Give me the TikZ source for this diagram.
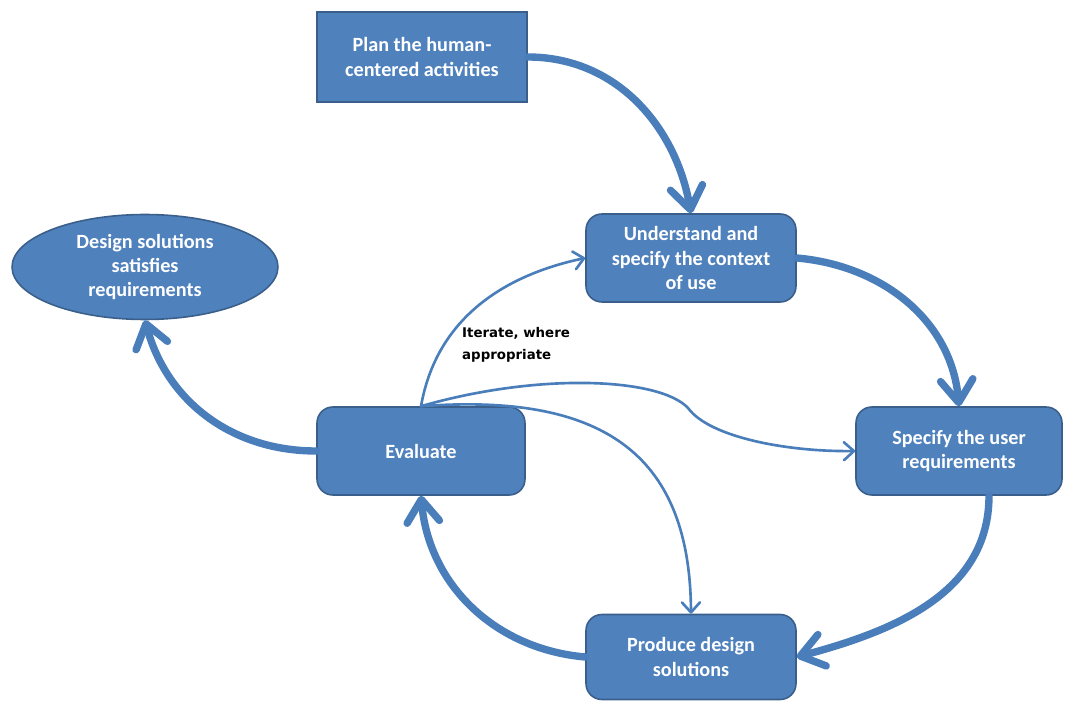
\documentclass[tikz,border=0pt]{standalone}
\usepackage{fontspec}
\setmainfont{Carlito}
\newfontfamily\notefont{DejaVu Sans}
\usetikzlibrary{arrows.meta,shapes.geometric}
\definecolor{boxblue}{HTML}{4F81BD}
\definecolor{boxedge}{HTML}{3A5F8B}
\definecolor{flowblue}{HTML}{4A7EBB}
\tikzset{
  stage/.style={draw=boxedge, line width=0.9pt, fill=boxblue, text=white,
    rounded corners=9pt, minimum width=4.2cm, minimum height=1.76cm,
    align=center, inner sep=2pt, font=\bfseries\fontsize{11.5}{13.8}\selectfont},
  bigflow/.style={draw=flowblue, line width=4.2pt, line cap=round,
    -{Straight Barb[length=4.5mm,width=6.5mm,round]}},
  iterflow/.style={draw=flowblue, line width=1.5pt, line cap=round,
    -{Straight Barb[length=2mm,width=3.6mm,round]}},
}
\begin{document}
\begin{tikzpicture}[x=0.02cm,y=-0.02cm]
  \useasboundingbox (0,0) rectangle (1065,702);
  % process stages
  \node[stage, rounded corners=0pt, minimum height=1.8cm] (plan) at (422,57) {Plan the human-\\centered activities};
  \node[stage] (ctx) at (691,258) {Understand and\\specify the context\\of use};
  \node[stage, minimum width=4.12cm] (req) at (959,451) {Specify the user\\requirements};
  \node[stage, minimum height=1.7cm] (sol) at (691,657) {Produce design\\solutions};
  \node[stage, minimum width=4.16cm] (eval) at (421,451) {Evaluate};
  \node[stage, ellipse, rounded corners=0pt, minimum width=5.32cm, minimum height=2.1cm,
        inner sep=0pt] (done) at (145,267) {Design solutions\\satisfies\\requirements};
  % main cycle
  \draw[bigflow] (plan.east) to[out=0,in=100] (ctx.north);
  \draw[bigflow] (ctx.east) to[out=-5,in=95] (req.north);
  \draw[bigflow] ([xshift=6mm]req.south) to[out=-90,in=15] (sol.east);
  \draw[bigflow] (sol.west) to[out=175,in=-85] (eval.south);
  \draw[bigflow] (eval.west) to[out=180,in=-75] (done.south);
  % iteration
  \draw[iterflow] (eval.north) to[out=80,in=192] (ctx.west);
  \draw[iterflow] (eval.north) .. controls (540,372) and (660,378) .. (688,408)
                               .. controls (710,438) and (790,452) .. (req.west);
  \draw[iterflow] (eval.north) .. controls (610,392) and (690,460) .. (sol.north);
  \node[font=\notefont\bfseries\fontsize{7.6}{12.5}\selectfont, align=left, anchor=west]
    (note) at (456,345) {Iterate, where\\appropriate};
\end{tikzpicture}
\end{document}
